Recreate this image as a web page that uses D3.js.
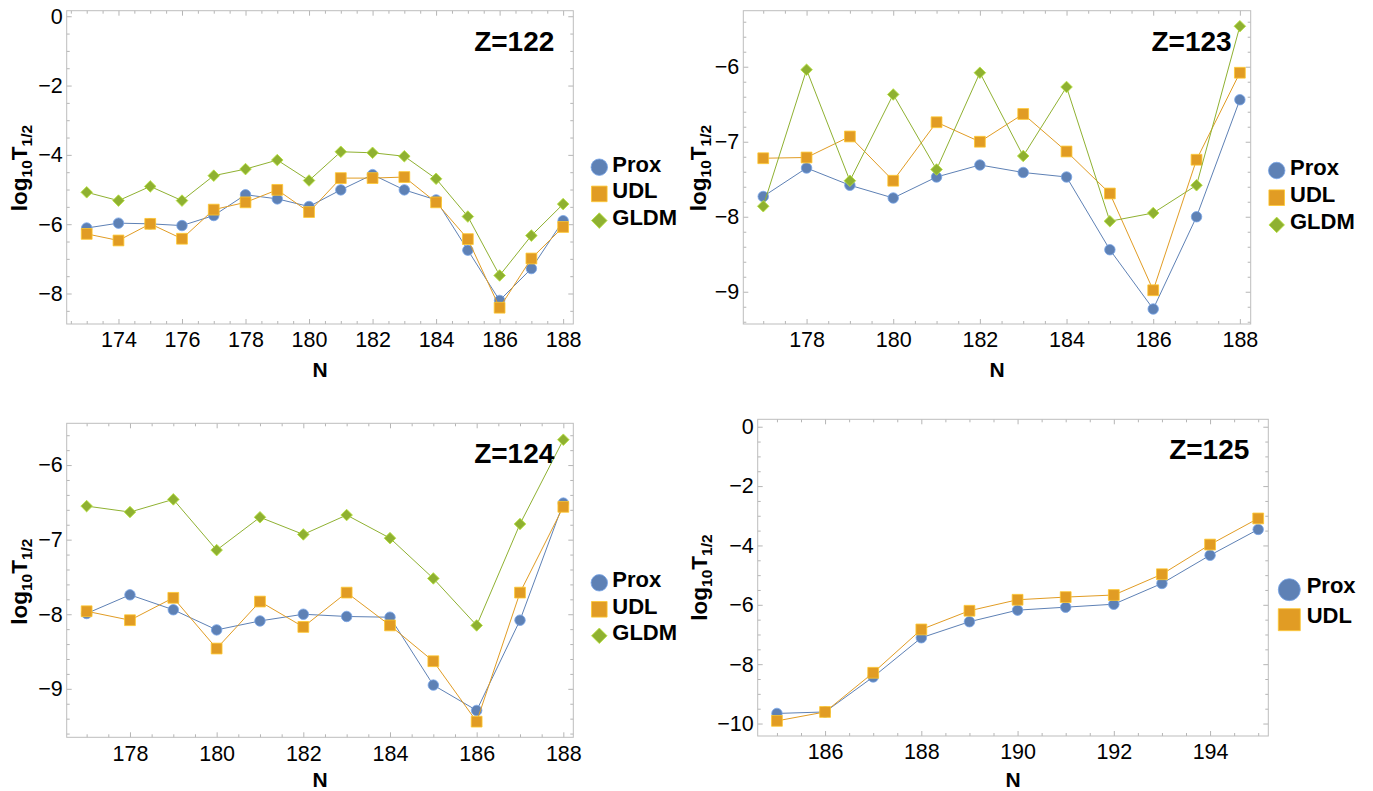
<!DOCTYPE html>
<html>
<head>
<meta charset="utf-8">
<script src="https://cdn.jsdelivr.net/npm/d3@7"></script>
<style>
  body { margin: 0; background: #fff; }
  svg { font-family: "Liberation Sans", Arial, sans-serif; }
  .tick line { stroke: #b5b5b5; }
</style>
</head>
<body>
<div id="chart"></div>
<script>
// data
const N122 = [173, 174, 175, 176, 177, 178, 179, 180, 181, 182, 183, 184, 185, 186, 187, 188]
const prox122 = [-6.11, -5.97, -5.99, -6.04, -5.75, -5.15, -5.27, -5.49, -5.01, -4.57, -5.01, -5.30, -6.75, -8.20, -7.28, -5.90]
const udl122 = [-6.28, -6.47, -5.99, -6.42, -5.58, -5.37, -5.01, -5.65, -4.67, -4.67, -4.64, -5.37, -6.43, -8.41, -6.99, -6.08]
const gldm122 = [-5.08, -5.32, -4.91, -5.32, -4.60, -4.41, -4.15, -4.74, -3.91, -3.94, -4.04, -4.69, -5.78, -7.48, -6.33, -5.42]

const N123 = [177, 178, 179, 180, 181, 182, 183, 184, 185, 186, 187, 188]
const prox123 = [-7.73, -7.35, -7.58, -7.75, -7.47, -7.31, -7.41, -7.47, -8.44, -9.23, -8.00, -6.44]
const udl123 = [-7.22, -7.21, -6.93, -7.52, -6.74, -7.00, -6.63, -7.13, -7.69, -8.98, -7.24, -6.08]
const gldm123 = [-7.86, -6.04, -7.52, -6.37, -7.37, -6.08, -7.19, -6.27, -8.06, -7.95, -7.58, -5.46]

const N124 = [177, 178, 179, 180, 181, 182, 183, 184, 185, 186, 187, 188]
const prox124 = [-7.99, -7.74, -7.94, -8.21, -8.09, -8.00, -8.03, -8.04, -8.95, -9.29, -8.08, -6.51]
const udl124 = [-7.96, -8.08, -7.78, -8.46, -7.83, -8.17, -7.71, -8.15, -8.63, -9.44, -7.71, -6.56]
const gldm124 = [-6.55, -6.63, -6.46, -7.14, -6.70, -6.93, -6.67, -6.98, -7.52, -8.15, -6.79, -5.66]

const N125 = [185, 186, 187, 188, 189, 190, 191, 192, 193, 194, 195]
const prox125 = [-9.66, -9.61, -8.43, -7.11, -6.57, -6.18, -6.08, -5.98, -5.28, -4.33, -3.46]
const udl125 = [-9.91, -9.61, -8.29, -6.83, -6.20, -5.83, -5.74, -5.67, -4.97, -3.97, -3.09]

const seriesNames = ["Prox", "UDL", "GLDM"]
const titles = ["Z=122", "Z=123", "Z=124", "Z=125"]

const xTicks122 = [174, 176, 178, 180, 182, 184, 186, 188]
const xTicks123 = [178, 180, 182, 184, 186, 188]
const xTicks125 = [186, 188, 190, 192, 194]
const yTicks122 = [-8, -6, -4, -2, 0]
const yTicks123 = [-9, -8, -7, -6]
const yTicks125 = [-10, -8, -6, -4, -2, 0]

// style / layout
const colors = { Prox: "#5E81B5", UDL: "#E19C24", GLDM: "#8FB131" }
const shapes = { Prox: "circle", UDL: "square", GLDM: "diamond" }
const width = 1373, height = 791
const fontTick = 21.5

const panels = [
  { title: titles[0], N: N122, vals: [prox122, udl122, gldm122], frame: [66.7, 10.7, 573.3, 324],
    xdom: [172.37, 188.32], ydom: [-8.88, 0.16], xt: xTicks122, yt: yTicks122, ymin: 0.5,
    ylab: [27, 168], legend: { dx: 26, tx: 39, y0: 171.7, step: 26.7, big: false } },
  { title: titles[1], N: N123, vals: [prox123, udl123, gldm123], frame: [743.3, 10.7, 1250.7, 324],
    xdom: [176.54, 188.25], ydom: [-9.43, -5.253], xt: xTicks123, yt: yTicks123, ymin: 0.2,
    ylab: [706, 168], legend: { dx: 26, tx: 39.3, y0: 175, step: 27.2, big: false } },
  { title: titles[2], N: N124, vals: [prox124, udl124, gldm124], frame: [66.7, 423.3, 573.3, 737.3],
    xdom: [176.54, 188.23], ydom: [-9.65, -5.44], xt: xTicks123, yt: yTicks123, ymin: 0.2,
    ylab: [27, 581.7], legend: { dx: 26, tx: 39, y0: 587.3, step: 26.5, big: false } },
  { title: titles[3], N: N125, vals: [prox125, udl125], frame: [757.7, 419.3, 1268.3, 736],
    xdom: [184.6, 195.21], ydom: [-10.42, 0.25], xt: xTicks125, yt: yTicks125, ymin: 0.5,
    ylab: [707, 577.5], legend: { dx: 21, tx: 38.4, y0: 592.7, step: 30, big: true } }
]

const svg = d3.select("#chart").append("svg")
  .attr("width", width)
  .attr("height", height)

const minus = s => String(s).replace("-", "\u2212")

function marker(sel, shape, size, color) {
  let sym
  if (shape === "circle") sym = d3.symbol(d3.symbolCircle, Math.PI * size * size / 4)
  else sym = d3.symbol(d3.symbolSquare, size * size)
  sel.append("path")
    .attr("d", sym())
    .attr("transform", shape === "diamond" ? "rotate(45)" : null)
    .attr("fill", color)
    .attr("stroke", d3.color(color).brighter(0.7))
    .attr("stroke-width", 0.8)
}

function minorTicks(dom, step) {
  const lo = Math.ceil(dom[0] / step) * step
  return d3.range(lo, dom[1] + 1e-9, step).map(v => +v.toFixed(4))
}

panels.forEach(p => {
  const [l, t, r, b] = p.frame
  const x = d3.scaleLinear().domain(p.xdom).range([l, r])
  const y = d3.scaleLinear().domain(p.ydom).range([b, t])
  const g = svg.append("g")

  // frame ticks, pointing inwards on all four sides
  const xMinor = minorTicks(p.xdom, 0.5).filter(v => !p.xt.includes(v))
  const yMinor = minorTicks(p.ydom, p.ymin).filter(v => !p.yt.includes(v))

  const axes = [
    [d3.axisBottom(x).tickValues(p.xt).tickSize(-5).tickPadding(8).tickFormat(d3.format("d")), `translate(0,${b})`],
    [d3.axisBottom(x).tickValues(xMinor).tickSize(-3).tickFormat(""), `translate(0,${b})`],
    [d3.axisTop(x).tickValues(p.xt).tickSize(-5).tickFormat(""), `translate(0,${t})`],
    [d3.axisTop(x).tickValues(xMinor).tickSize(-3).tickFormat(""), `translate(0,${t})`],
    [d3.axisLeft(y).tickValues(p.yt).tickSize(-5).tickPadding(4).tickFormat(minus), `translate(${l},0)`],
    [d3.axisLeft(y).tickValues(yMinor).tickSize(-3).tickFormat(""), `translate(${l},0)`],
    [d3.axisRight(y).tickValues(p.yt).tickSize(-5).tickFormat(""), `translate(${r},0)`],
    [d3.axisRight(y).tickValues(yMinor).tickSize(-3).tickFormat(""), `translate(${r},0)`]
  ]
  axes.forEach(([ax, tr]) => {
    const a = g.append("g").attr("transform", tr).call(ax)
    a.select(".domain").remove()
    a.selectAll("text").style("font-size", fontTick + "px").attr("fill", "#000")
  })
  g.selectAll(".tick line").attr("stroke", "#b5b5b5")

  g.append("rect")
    .attr("x", l).attr("y", t)
    .attr("width", r - l).attr("height", b - t)
    .attr("fill", "none")
    .attr("stroke", "#bdbdbd")
    .attr("stroke-width", 1)

  // series
  p.vals.forEach((vals, i) => {
    const name = seriesNames[i]
    const pts = p.N.map((n, k) => [n, vals[k]])
    g.append("path")
      .datum(pts)
      .attr("fill", "none")
      .attr("stroke", colors[name])
      .attr("stroke-width", 1)
      .attr("d", d3.line().x(d => x(d[0])).y(d => y(d[1])))
    const size = shapes[name] === "circle" ? 10.5 : shapes[name] === "square" ? 10.8 : 8.2
    pts.forEach(d => {
      const m = g.append("g").attr("transform", `translate(${x(d[0])},${y(d[1])})`)
      marker(m, shapes[name], size, colors[name])
    })
  })

  // title
  g.append("text")
    .attr("x", r - 19)
    .attr("y", t + 40)
    .attr("text-anchor", "end")
    .style("font-size", "28px")
    .style("font-weight", "bold")
    .text(p.title)

  // axis labels
  g.append("text")
    .attr("x", (l + r) / 2)
    .attr("y", Math.min(b + 52.5, height - 4))
    .attr("text-anchor", "middle")
    .style("font-size", "21px")
    .style("font-weight", "bold")
    .text("N")

  const yl = g.append("text")
    .attr("transform", `translate(${p.ylab[0]},${p.ylab[1]}) rotate(-90)`)
    .attr("text-anchor", "middle")
    .style("font-size", "22.5px")
    .style("font-weight", "bold")
  yl.append("tspan").text("log")
  yl.append("tspan").attr("dy", 5).style("font-size", "15.5px").text("10")
  yl.append("tspan").attr("dy", -5).text("T")
  yl.append("tspan").attr("dy", 5).style("font-size", "15.5px").text("1/2")

  // legend
  const lg = p.legend
  p.vals.forEach((vals, i) => {
    const name = seriesNames[i]
    const yy = lg.y0 + i * lg.step
    let size
    if (lg.big) size = 22
    else size = shapes[name] === "circle" ? 16.5 : shapes[name] === "square" ? 15.6 : 11
    const m = g.append("g").attr("transform", `translate(${r + lg.dx},${yy - (lg.big ? 3 : 4.5)})`)
    marker(m, shapes[name], size, colors[name])
    g.append("text")
      .attr("x", r + lg.tx)
      .attr("y", yy)
      .style("font-size", "22px")
      .style("font-weight", "bold")
      .text(name)
  })
})
</script>
</body>
</html>
